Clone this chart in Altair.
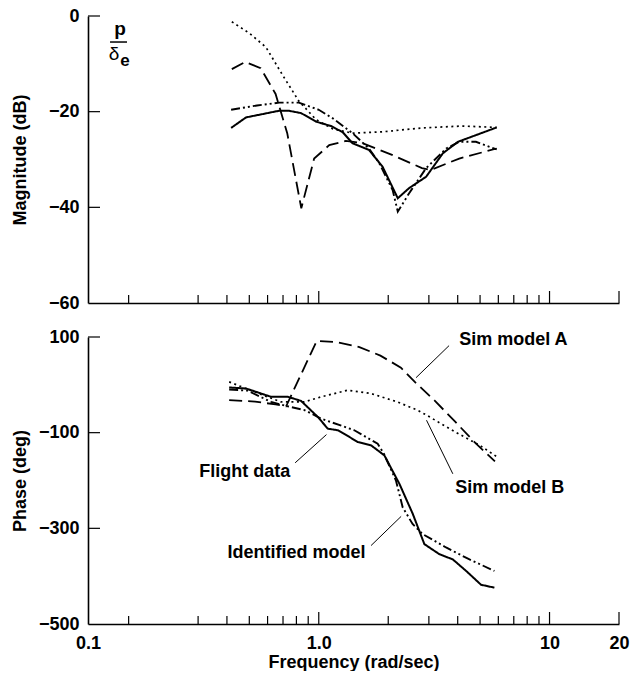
import altair as alt
import pandas as pd

# ---------------- data ----------------
series_names = ["Flight data", "Identified model", "Sim model A", "Sim model B"]

# Magnitude (dB)
mag_flight_f = [0.417, 0.484, 0.675, 0.74, 0.838, 0.975, 1.13, 1.27, 1.40, 1.65, 1.89, 2.20, 2.46, 2.92, 3.45, 4.01, 5.9]
mag_flight_v = [-23.4, -21.2, -19.8, -19.8, -20.3, -22.1, -23.0, -24.3, -26.6, -28.0, -31.5, -38.1, -36.0, -33.6, -28.7, -26.3, -23.3]

mag_ident_f = [0.417, 0.54, 0.675, 0.82, 1.0, 1.15, 1.40, 1.65, 1.83, 2.09, 2.20, 2.46, 2.92, 3.57, 4.06, 4.8, 5.9]
mag_ident_v = [-19.6, -18.7, -18.1, -18.1, -19.6, -21.4, -24.5, -27.7, -30.8, -36.4, -40.9, -37.1, -31.8, -27.7, -26.3, -26.3, -27.9]

mag_simA_f = [0.42, 0.48, 0.56, 0.65, 0.73, 0.84, 0.955, 1.11, 1.31, 1.55, 2.09, 2.8, 3.05, 4.06, 5.9]
mag_simA_v = [-11.1, -9.6, -10.9, -16.3, -24.5, -40.2, -29.8, -27.0, -26.1, -26.6, -29.1, -31.8, -32.2, -29.8, -27.7]

mag_simB_f = [0.42, 0.50, 0.59, 0.70, 0.82, 0.975, 1.15, 1.40, 1.9, 2.8, 4.2, 5.9]
mag_simB_v = [-1.2, -3.6, -6.5, -12.5, -17.8, -21.7, -23.6, -24.5, -24.2, -23.4, -23.0, -23.3]

# Phase (deg)
ph_flight_f = [0.409, 0.484, 0.621, 0.734, 0.838, 0.99, 1.094, 1.209, 1.358, 1.475, 1.686, 1.924, 2.236, 2.556, 2.868, 3.33, 3.81, 4.35, 5.05, 5.77]
ph_flight_v = [-5.5, -7.7, -25, -25, -33.6, -67, -91.6, -95, -109, -119.6, -126.5, -147.5, -207, -270, -333, -354, -365, -389, -418, -424]

ph_ident_f = [0.409, 0.491, 0.621, 0.734, 0.867, 1.023, 1.426, 1.80, 1.92, 2.16, 2.31, 2.55, 2.82, 3.56, 4.50, 5.77]
ph_ident_v = [-9.8, -12.1, -35.7, -44.8, -52.8, -70.6, -95, -123, -145, -200, -256, -291, -312, -340, -365, -389]

ph_simA_f = [0.409, 0.53, 0.65, 0.722, 0.98, 1.2, 1.5, 1.85, 2.27, 2.62, 3.18, 3.9, 4.78, 5.8]
ph_simA_v = [-32, -35, -41, -45, 92, 89, 79, 61, 36, 5, -33, -77, -122, -160]

ph_simB_f = [0.409, 0.526, 0.686, 0.866, 1.023, 1.336, 1.686, 2.19, 2.68, 2.93, 3.90, 4.98, 5.9]
ph_simB_v = [6.2, -14.7, -35.7, -35.7, -25.2, -11.2, -18.2, -35.7, -53, -63.3, -98.4, -126.4, -150]

# axis ticks / labels
x_label_values = [0.1, 1, 10, 20]
x_minor_ticks = [0.15, 0.3, 0.4, 0.5, 0.6, 0.7, 0.8, 0.9, 2, 3, 4, 5, 6, 7, 8, 9]
x_major_ticks = [1, 10, 20]
mag_ticks = [0, -20, -40, -60]
ph_ticks = [100, -100, -300, -500]

# annotations (phase panel)
ann_text = ["Sim model A", "Sim model B", "Flight data", "Identified model"]
ann_f = [4.06, 3.90, 0.752, 1.595]
ann_v = [93, -215, -182.5, -352]
ann_align = ["left", "left", "right", "right"]
lead_f1 = [2.64, 2.93, 0.79, 1.685]
lead_v1 = [15, -74, -163, -336]
lead_f2 = [3.67, 3.81, 1.08, 2.275]
lead_v2 = [82, -186, -104, -275]

# p / delta_e label (magnitude panel)
frac_p = ("p", 0.1377, -3.97)
frac_bar = (0.1246, 0.1476, -5.44)
frac_delta = ("δ", 0.1297, -9.2)
frac_e = ("e", 0.1447, -10.45)

# ---------------- build ----------------
W, H = 531, 287
FONT = "Liberation Sans"
xs = alt.Scale(type="log", domain=[0.1, 20], nice=False)

def series_df(fs, vs, name):
    return pd.DataFrame({"f": fs, "v": vs, "s": name})

mag_df = pd.concat([
    series_df(mag_flight_f, mag_flight_v, series_names[0]),
    series_df(mag_ident_f, mag_ident_v, series_names[1]),
    series_df(mag_simA_f, mag_simA_v, series_names[2]),
    series_df(mag_simB_f, mag_simB_v, series_names[3]),
])
ph_df = pd.concat([
    series_df(ph_flight_f, ph_flight_v, series_names[0]),
    series_df(ph_ident_f, ph_ident_v, series_names[1]),
    series_df(ph_simA_f, ph_simA_v, series_names[2]),
    series_df(ph_simB_f, ph_simB_v, series_names[3]),
])

dash_scale = alt.Scale(domain=series_names,
                       range=[[1, 0], [9, 3, 2, 3, 2, 3], [13, 6], [2, 3.5]])
width_scale = alt.Scale(domain=series_names, range=[2.0, 1.7, 1.8, 1.8])


def make_panel(df, y_domain, y_ticks, y_title, show_x_labels):
    ys = alt.Scale(domain=y_domain, nice=False, zero=False)
    if show_x_labels:
        xaxis = alt.Axis(values=x_label_values, ticks=False, grid=False,
                         labelExpr="datum.value == 1 ? '1.0' : '' + datum.value",
                         labelFlush=False, labelPadding=10, title="Frequency (rad/sec)",
                         titleY=43, titleBaseline="alphabetic")
    else:
        xaxis = alt.Axis(labels=False, ticks=False, grid=False, title=None)
    yaxis = alt.Axis(values=y_ticks, ticks=False, grid=False, labelPadding=9,
                     title=y_title, titleX=-68, titleY=H / 2, titleAngle=270,
                     titleAlign="center", titleBaseline="middle")

    X = alt.X("f:Q", scale=xs, axis=xaxis)
    Y = alt.Y("v:Q", scale=ys, axis=yaxis)

    lines = alt.Chart(df).mark_line(color="black", strokeCap="butt").encode(
        x=X, y=Y,
        detail="s:N",
        strokeDash=alt.StrokeDash("s:N", scale=dash_scale, legend=None),
        strokeWidth=alt.StrokeWidth("s:N", scale=width_scale, legend=None),
        order="f:Q",
    )
    minor = alt.Chart(pd.DataFrame({"f": x_minor_ticks})).mark_rule(
        color="black", strokeWidth=1.2).encode(
        x=X, y=alt.value(H), y2=alt.value(H - 8))
    major = alt.Chart(pd.DataFrame({"f": x_major_ticks})).mark_rule(
        color="black", strokeWidth=1.2).encode(
        x=X, y=alt.value(H), y2=alt.value(H - 12))
    yt = alt.Chart(pd.DataFrame({"v": y_ticks[:-1]})).mark_rule(
        color="black", strokeWidth=1.2).encode(
        y=Y, x=alt.value(0), x2=alt.value(12))
    return [lines, minor, major, yt], X, Y


# magnitude panel
top_layers, Xt, Yt = make_panel(mag_df, [-60, 0], mag_ticks, "Magnitude (dB)", False)
p_txt = alt.Chart(pd.DataFrame({"f": [frac_p[1]], "v": [frac_p[2]], "t": [frac_p[0]]})).mark_text(
    font=FONT, fontSize=19, fontWeight="bold", align="center", baseline="alphabetic", color="black"
).encode(x=Xt, y=Yt, text="t:N")
bar = alt.Chart(pd.DataFrame({"f": [frac_bar[0]], "f2": [frac_bar[1]], "v": [frac_bar[2]]})).mark_rule(
    color="black", strokeWidth=1.5).encode(x=Xt, x2="f2:Q", y=Yt)
d_txt = alt.Chart(pd.DataFrame({"f": [frac_delta[1]], "v": [frac_delta[2]], "t": [frac_delta[0]]})).mark_text(
    font=FONT, fontSize=19, align="center", baseline="alphabetic", color="black"
).encode(x=Xt, y=Yt, text="t:N")
e_txt = alt.Chart(pd.DataFrame({"f": [frac_e[1]], "v": [frac_e[2]], "t": [frac_e[0]]})).mark_text(
    font=FONT, fontSize=17, fontWeight="bold", align="center", baseline="alphabetic", color="black"
).encode(x=Xt, y=Yt, text="t:N")
top = alt.layer(*top_layers, p_txt, bar, d_txt, e_txt).properties(width=W, height=H)

# phase panel
bot_layers, Xb, Yb = make_panel(ph_df, [-500, 100], ph_ticks, "Phase (deg)", True)
ann_df = pd.DataFrame({"f": ann_f, "v": ann_v, "t": ann_text, "a": ann_align})
ann_left = alt.Chart(ann_df[ann_df["a"] == "left"]).mark_text(
    font=FONT, fontSize=18, fontWeight="bold", align="left", baseline="middle", color="black"
).encode(x=Xb, y=Yb, text="t:N")
ann_right = alt.Chart(ann_df[ann_df["a"] == "right"]).mark_text(
    font=FONT, fontSize=18, fontWeight="bold", align="right", baseline="middle", color="black"
).encode(x=Xb, y=Yb, text="t:N")
lead_df = pd.DataFrame({"f": lead_f1, "v": lead_v1, "f2": lead_f2, "v2": lead_v2})
leaders = alt.Chart(lead_df).mark_rule(color="black", strokeWidth=1).encode(
    x=Xb, y=Yb, x2="f2:Q", y2="v2:Q")
bottom = alt.layer(*bot_layers, leaders, ann_left, ann_right).properties(width=W, height=H)

chart = alt.vconcat(top, bottom, spacing=34, bounds="flush").properties(
    padding={"left": 11, "top": 7, "right": 0, "bottom": 0},
).configure_view(stroke=None).configure_axis(
    labelFont=FONT, labelFontSize=18, labelFontWeight="bold", labelColor="black",
    titleFont=FONT, titleFontSize=18, titleFontWeight="bold", titleColor="black",
    domainColor="black", domainWidth=1.6,
)

chart.save("out.html", embed_options={"renderer": "svg", "actions": False})
